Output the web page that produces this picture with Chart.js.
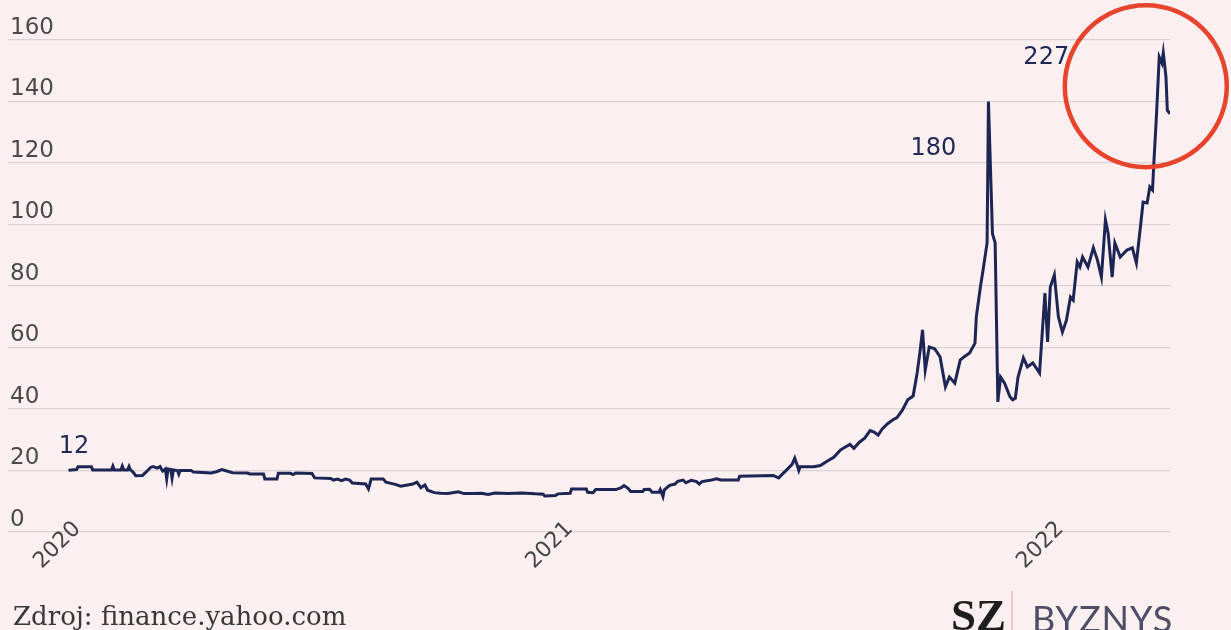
<!DOCTYPE html>
<html>
<head>
<meta charset="utf-8">
<script src="https://cdn.jsdelivr.net/npm/chart.js@4.4.1/dist/chart.umd.min.js"></script>
<style>
  html, body { margin: 0; padding: 0; background: #fbeff0; }
  #wrap { position: relative; width: 1231px; height: 630px; overflow: hidden; }
  #chart { position: absolute; left: 0; top: 0; }
  .foot { position: absolute; white-space: nowrap; line-height: 1; }
  #source { left: 13px; top: 601px; font: 26px "DejaVu Serif", serif; color: #383838; }
  #sz { left: 951px; top: 589px; font: bold 45px "Liberation Serif", serif; color: #1e1e1e; }
  #bar { position: absolute; left: 1011px; top: 591px; width: 2px; height: 39px; background: #f2c4ca; }
  #byznys { left: 1032px; top: 596px; font: 400 36px Lato, sans-serif; letter-spacing: 1px; color: #4e4f66; }
</style>
</head>
<body>
<div id="wrap">
  <canvas id="chart" width="1231" height="630"></canvas>
  <div class="foot" id="source">Zdroj: finance.yahoo.com</div>
  <div class="foot" id="sz">SZ</div>
  <div id="bar"></div>
  <div class="foot" id="byznys">BYZNYS</div>
</div>
<script>
// days counted from 1 Jan 2020
const days2020 = [
  -7, -1, 0, 10, 11, 25, 26, 27, 32, 33,
  34, 37, 38, 39, 41, 43, 48, 51, 54, 56,
  59, 61, 63, 65, 66, 67, 69, 70, 71, 74,
  75, 76, 84, 86, 96, 99, 103, 107, 110, 115,
  126, 128, 138, 139, 148, 149, 158, 160, 162, 174,
  176, 188, 190, 193, 196, 199, 202, 204, 214, 216,
  217, 218, 227, 229, 236, 240, 245, 249, 252, 255,
  258, 260, 265, 270, 275, 283, 287, 294, 300, 305,
  310, 320, 330, 340, 346, 347, 355, 357
];
const prices2020 = [
  20.1, 20.3, 21.2, 21.2, 20.2, 20.2, 21.4, 20.2, 20.2, 21.4,
  20.2, 20.2, 21.3, 20.2, 19.5, 18.3, 18.4, 19.6, 21.0, 21.3,
  20.8, 21.3, 19.8, 20.5, 17.3, 20.5, 20.3, 17.5, 20.2, 20.0,
  18.8, 20.0, 20.0, 19.5, 19.3, 19.2, 19.6, 20.3, 19.9, 19.3,
  19.2, 18.9, 18.9, 17.2, 17.2, 19.1, 19.1, 18.7, 19.2, 19.0,
  17.6, 17.4, 16.9, 17.2, 16.7, 17.2, 16.9, 15.9, 15.6, 14.0,
  15.5, 17.2, 17.2, 16.2, 15.5, 14.9, 15.3, 15.6, 16.2, 14.4,
  15.3, 13.6, 12.8, 12.6, 12.5, 13.1, 12.5, 12.5, 12.6, 12.2,
  12.7, 12.5, 12.7, 12.4, 12.3, 11.7, 11.9, 12.4
];

const days2021 = [
  366, 367, 378, 379, 383, 385, 400, 404, 406, 409,
  411, 420, 421, 425, 427, 432, 433, 435, 436, 440,
  444, 446, 450, 452, 456, 460, 462, 464, 470, 475,
  478, 491, 492, 517, 521, 523, 527, 531, 533, 535,
  536, 537, 547, 552, 557, 562, 567, 570, 574, 577,
  581, 585, 589, 592, 595, 598, 602, 606, 609, 613,
  617, 621, 624, 626, 628, 630, 633, 637, 641, 645,
  648, 652, 656, 659, 663, 667, 668, 671, 673, 676,
  677, 680, 682, 684, 686, 689, 693, 695, 697, 699,
  703, 706, 710, 715, 719, 721, 723, 726, 729
];
const prices2021 = [
  12.6, 14.0, 14.0, 12.9, 12.8, 13.8, 13.8, 14.4, 15.1, 14.2,
  13.2, 13.2, 13.8, 13.9, 12.9, 12.9, 13.8, 11.5, 13.7, 15.2,
  15.6, 16.5, 16.9, 16.0, 16.8, 16.4, 15.6, 16.4, 16.8, 17.3,
  16.9, 16.9, 18.1, 18.4, 17.6, 18.5, 20.2, 22.0, 24.0, 21.5,
  20.0, 21.2, 21.2, 21.6, 23.0, 24.3, 26.7, 27.5, 28.5, 27.2,
  29.2, 30.5, 33.0, 32.5, 31.5, 33.5, 35.2, 36.5, 37.2, 39.6,
  43.0, 44.2, 51.7, 58.2, 65.7, 52.7, 60.2, 59.6, 57.0, 47.2,
  50.4, 48.4, 55.9, 57.0, 58.2, 61.4, 70.0, 79.6, 85.2, 94.0,
  140.0, 97.0, 94.0, 42.3, 50.4, 48.4, 44.0, 43.0, 43.5, 50.4,
  56.6, 53.7, 55.0, 51.7, 77.7, 61.8, 79.7, 83.6, 70.0
];

const days2022 = [
  732, 735, 738, 740, 743, 745, 747, 751, 755, 758,
  761, 764, 766, 769, 771, 775, 780, 784, 787, 790,
  792, 795, 797, 799, 800, 802, 804, 806, 807, 809,
  810, 812
];
const prices2022 = [
  65.0, 68.9, 76.4, 75.4, 87.8, 86.2, 89.4, 86.2, 92.4, 88.5,
  82.9, 101.5, 97.2, 82.9, 94.0, 89.4, 91.7, 92.4, 87.5, 99.2,
  107.3, 107.0, 112.2, 111.2, 120.0, 136.0, 154.5, 152.5, 155.8, 148.0,
  137.2, 136.0
];

const yearDays = [0, 366, 731];
const yearLabels = ['2020', '2021', '2022'];

// price notes written on the chart
const noteTexts = ['12', '180', '227'];
const noteDays = [-3, 636, 720];
const noteValues = [27.8, 124.6, 154.3];

// red ring around the latest peak
const ringDay = 794;
const ringValue = 145;
const ringRadius = 81;

const days = days2020.concat(days2021, days2022);
const prices = prices2020.concat(prices2021, prices2022);
const points = days.map((d, i) => ({ x: d, y: prices[i] }));

const notesPlugin = {
  id: 'notes',
  afterDatasetsDraw(chart) {
    const { ctx, scales: { x, y } } = chart;
    ctx.save();
    ctx.font = '24px "DejaVu Sans"';
    ctx.fillStyle = '#1f2856';
    ctx.textAlign = 'center';
    ctx.textBaseline = 'middle';
    noteTexts.forEach((t, i) => {
      ctx.fillText(t, x.getPixelForValue(noteDays[i]), y.getPixelForValue(noteValues[i]));
    });
    ctx.beginPath();
    ctx.strokeStyle = '#e8432d';
    ctx.lineWidth = 4.5;
    ctx.arc(x.getPixelForValue(ringDay), y.getPixelForValue(ringValue), ringRadius, 0, Math.PI * 2);
    ctx.stroke();
    ctx.restore();
  }
};

const ctx = document.getElementById('chart').getContext('2d');
new Chart(ctx, {
  type: 'line',
  data: {
    datasets: [{
      data: points,
      borderColor: '#1c2554',
      borderWidth: 3,
      pointRadius: 0,
      tension: 0,
      fill: false
    }]
  },
  options: {
    responsive: false,
    animation: false,
    layout: { padding: { top: 40, right: 61, bottom: 0, left: 0 } },
    plugins: {
      legend: { display: false },
      tooltip: { enabled: false }
    },
    scales: {
      x: {
        type: 'linear',
        min: -52,
        max: 812,
        grid: { display: false, drawTicks: false },
        border: { display: false },
        afterBuildTicks: scale => { scale.ticks = yearDays.map(v => ({ value: v })); },
        afterFit: scale => { scale.height = 98; },
        ticks: {
          autoSkip: false,
          minRotation: 45,
          maxRotation: 45,
          mirror: true, // keeps the labels from being clipped where they overlap the plot
          padding: -3,
          labelOffset: 18,
          color: '#454545',
          font: { family: 'DejaVu Sans', size: 22 },
          callback: v => yearLabels[yearDays.indexOf(v)]
        }
      },
      y: {
        min: 0,
        max: 160,
        grid: { color: '#d9d3d5', lineWidth: 1.3, drawTicks: false },
        border: { display: false },
        afterFit: scale => { scale.width = 8; },
        ticks: {
          stepSize: 20,
          mirror: true,
          padding: 2,
          labelOffset: -12,
          color: '#4a4a4a',
          font: { family: 'DejaVu Sans', size: 23 }
        }
      }
    }
  },
  plugins: [notesPlugin]
});
</script>
</body>
</html>
